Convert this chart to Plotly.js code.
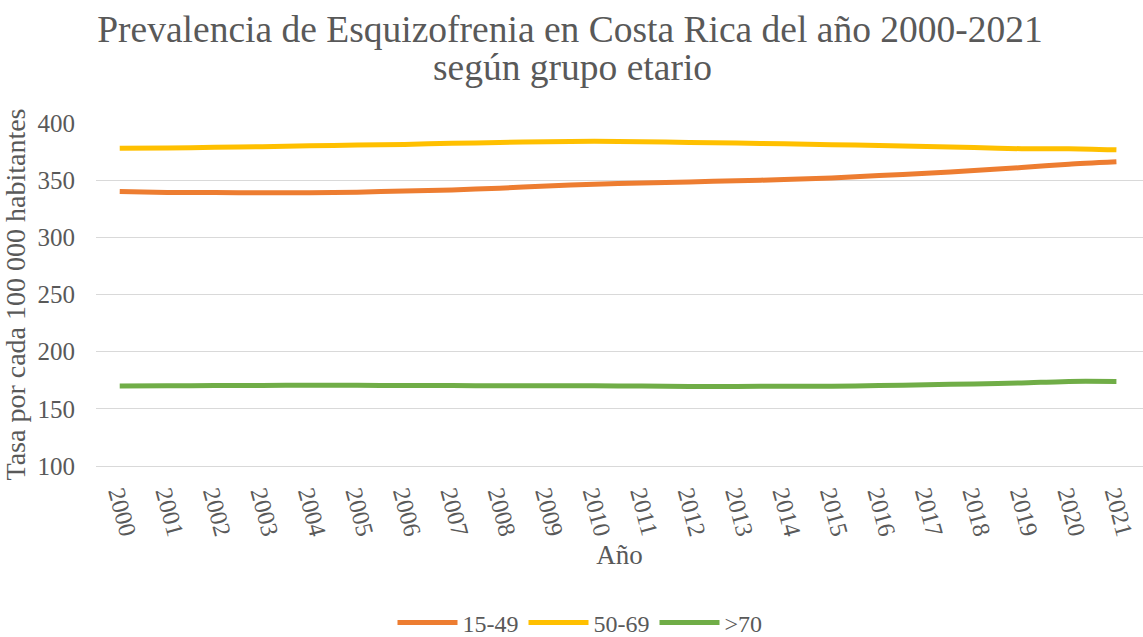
<!DOCTYPE html>
<html>
<head>
<meta charset="utf-8">
<script src="https://cdn.plot.ly/plotly-3.0.1.min.js"></script>
<style>html,body{margin:0;padding:0;background:#fff;}#chart{width:1143px;height:637px;}</style>
</head>
<body>
<div id="chart"></div>
<script>
const years = [2000,2001,2002,2003,2004,2005,2006,2007,2008,2009,2010,2011,2012,2013,2014,2015,2016,2017,2018,2019,2020,2021];
const tickLabels = years.map(String);
const yTicks = [100,150,200,250,300,350,400];
const grp1549 = [340,339.3,339.2,339,339,339.5,340.5,341.5,343,345,346.5,347.5,348.5,349.5,350.5,352,354,356,358.5,361,364,366];
const grp5069 = [378,378.2,378.7,379.3,380,380.7,381.3,382.2,383,383.6,384,383.6,383,382.5,381.8,381,380.3,379.5,378.5,377.5,377.5,376.5];
const grp70 = [170,170.2,170.3,170.5,170.6,170.6,170.4,170.3,170.2,170.2,170.1,169.9,169.6,169.6,169.8,169.8,170.4,171,171.8,172.6,174,174];
const seriesNames = ['15-49','50-69','>70'];
const seriesColors = ['#ED7D31','#FFC000','#70AD47'];
const seriesData = [grp1549, grp5069, grp70];
const titleLine1 = 'Prevalencia de Esquizofrenia en Costa Rica del año 2000-2021';
const titleLine2 = 'según grupo etario';

const font = 'Liberation Serif, Times New Roman, serif';
const grey = '#595959';
const traces = seriesData.map((d,i)=>({
  x: years, y: d, name: seriesNames[i], type:'scatter', mode:'lines',
  line:{color:seriesColors[i], width:5, shape:'spline', smoothing:0.6}
}));

const layout = {
  width:1143, height:637,
  paper_bgcolor:'#fff', plot_bgcolor:'#fff',
  margin:{l:96, r:0, t:123, b:171, autoexpand:false},
  font:{family:font, color:grey, size:24},
  title:{text:titleLine1, font:{family:font, size:37.5, color:grey},
    xref:'container', yref:'container', x:570/1143, xanchor:'center', y:1-29/637, yanchor:'middle', automargin:false},
  annotations:[{text:titleLine2, xref:'paper', yref:'paper', x:(572-96)/1047, y:(466-67)/343,
    xanchor:'center', yanchor:'middle', showarrow:false, font:{family:font, size:37.5, color:grey}}],
  xaxis:{range:[1999.5,2021.56], tickmode:'array', tickvals:years, ticktext:tickLabels, automargin:false,
    tickangle:75, showgrid:false, zeroline:false, showline:true, linecolor:'#d9d9d9', linewidth:1.3,
    ticks:'', ticklabelstandoff:3, ticklabeloverflow:'allow',
    tickfont:{family:font, size:24.5, color:grey},
    title:{text:'Año', font:{family:font, size:27, color:grey}, standoff:7}},
  yaxis:{range:[100,400], tickvals:yTicks, showgrid:true, gridcolor:'#d9d9d9', gridwidth:1.3, automargin:false,
    zeroline:false, showline:false, ticks:'', ticklabelstandoff:20,
    tickfont:{family:font, size:25, color:grey},
    title:{text:'Tasa por cada 100 000 habitantes', font:{family:font, size:28, color:grey}, standoff:8}},
  showlegend:true,
  legend:{orientation:'h', x:(580-96)/1047, xanchor:'center', y:(466-623)/343, yanchor:'middle',
    font:{family:font, size:24, color:grey}, itemwidth:60, tracegroupgap:0}
};
Plotly.newPlot('chart', traces, layout, {displayModeBar:false, staticPlot:true});
</script>
</body>
</html>
